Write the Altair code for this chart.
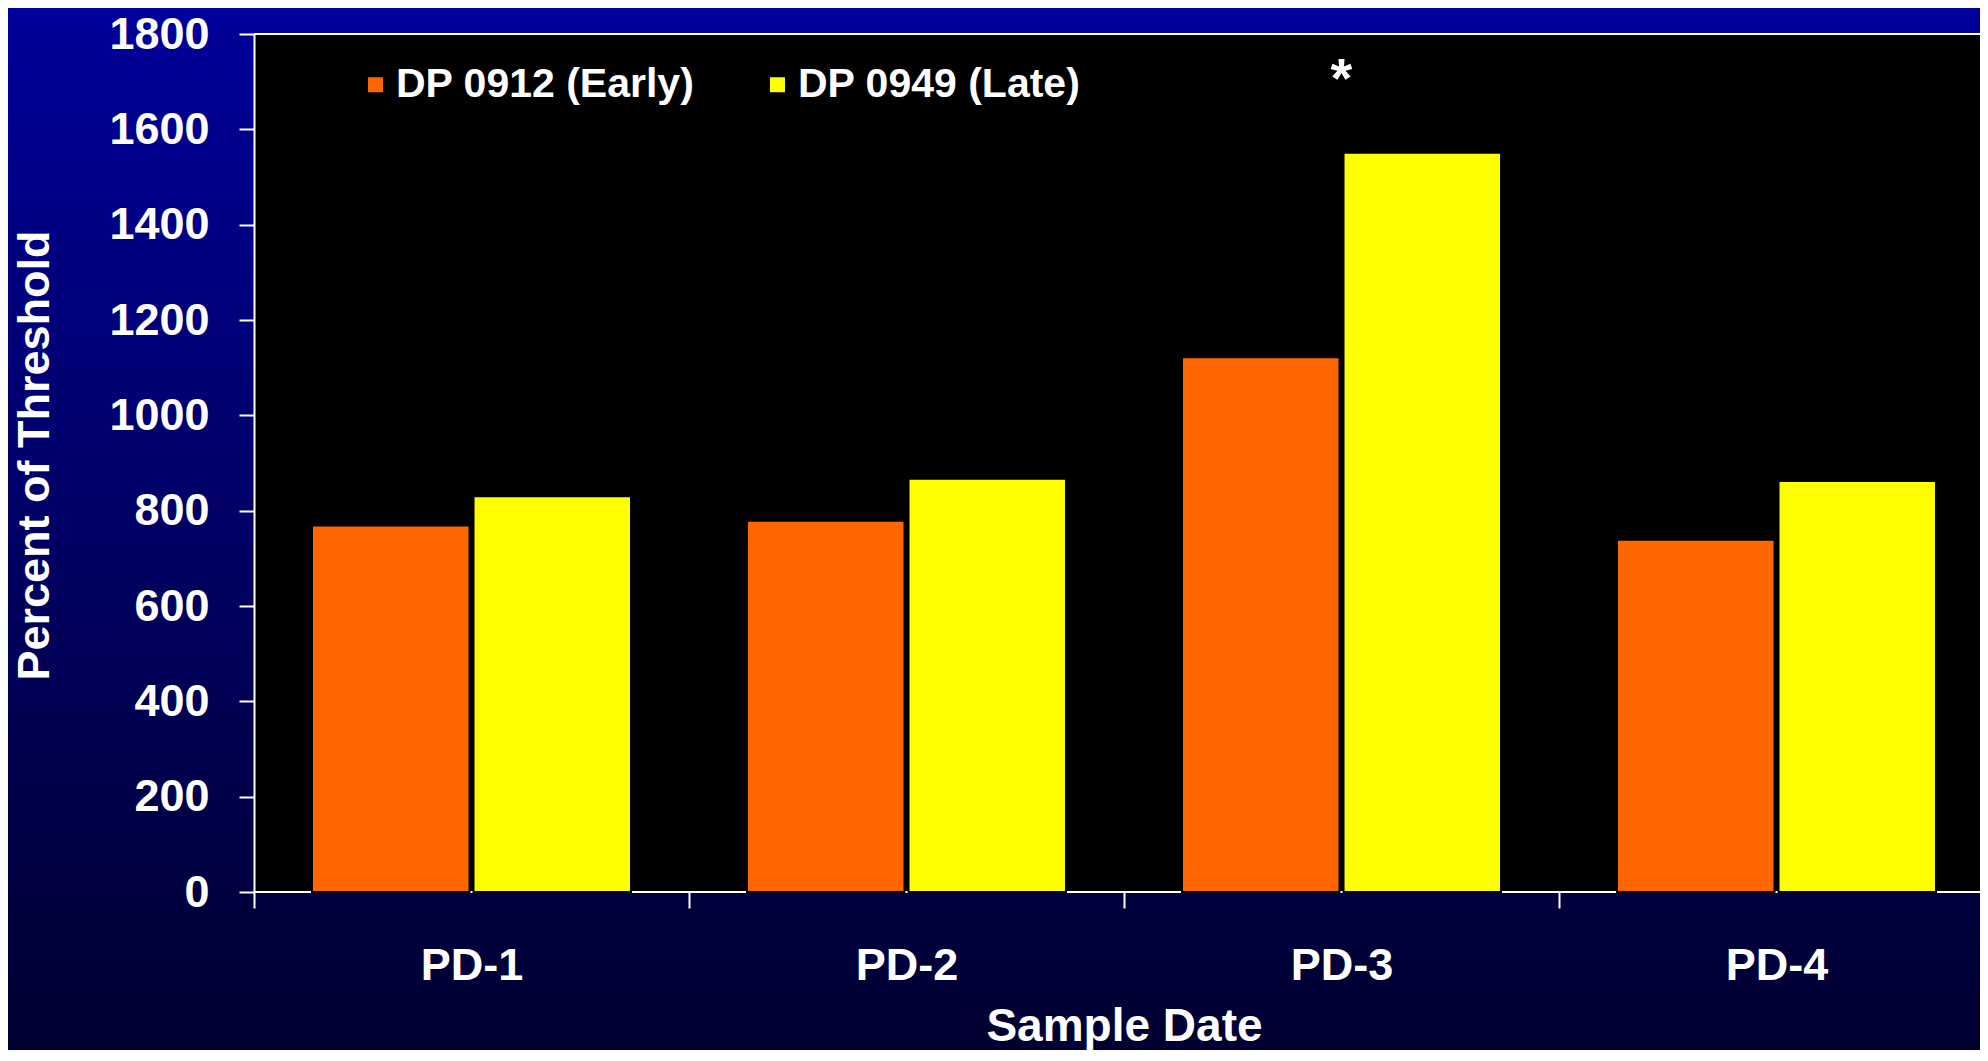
import altair as alt
import pandas as pd

# ---- data ----
categories = ["PD-1", "PD-2", "PD-3", "PD-4"]
series_names = ["DP 0912 (Early)", "DP 0949 (Late)"]
early_values = [769, 779, 1122, 739]
late_values = [830, 867, 1551, 862]
series_colors = ["#FF6600", "#FFFF00"]
y_tick_values = [0, 200, 400, 600, 800, 1000, 1200, 1400, 1600, 1800]
annot_category = ["PD-3"]
annot_value = [1667]
annot_text = ["*"]

rows = []
for c, e, l in zip(categories, early_values, late_values):
    rows.append({"cat": c, "series": series_names[0], "value": e})
    rows.append({"cat": c, "series": series_names[1], "value": l})
bars_df = pd.DataFrame(rows)
annot_df = pd.DataFrame({"cat": annot_category, "value": annot_value, "label": annot_text})
top_df = pd.DataFrame({"value": [y_tick_values[-1]]})
base_df = pd.DataFrame({"value": [y_tick_values[0]]})
one_df = pd.DataFrame({"k": [0]})

W, H = 1740, 858
FONT = "Liberation Sans"
P_INNER = 0.2667
HALF_GAP = P_INNER * (W / len(categories)) / 2  # half of the inner band padding in px

y_enc = alt.Y(
    "value:Q",
    scale=alt.Scale(domain=[0, 1800], nice=False, zero=True),
    axis=alt.Axis(
        values=y_tick_values,
        format="d",
        grid=False,
        domainColor="white",
        domainWidth=2,
        tickColor="white",
        tickWidth=2,
        tickSize=15,
        labelColor="white",
        labelFont=FONT,
        labelFontWeight="bold",
        labelFontSize=45,
        labelPadding=30,
        title="Percent of Threshold",
        titleColor="white",
        titleFont=FONT,
        titleFontWeight="bold",
        titleFontSize=45,
        titleAngle=270,
        titleAlign="center",
        titleBaseline="middle",
        titleX=-220,
        titleY=421,
        zindex=1,
    ),
)

x_enc = alt.X(
    "cat:N",
    sort=categories,
    scale=alt.Scale(domain=categories, paddingInner=P_INNER, paddingOuter=P_INNER / 2),
    axis=alt.Axis(
        domain=False,
        grid=False,
        bandPosition=0,
        tickOffset=-HALF_GAP,
        labelOffset=HALF_GAP,
        tickColor="white",
        tickWidth=2,
        tickSize=16,
        labelAngle=0,
        labelColor="white",
        labelFont=FONT,
        labelFontWeight="bold",
        labelFontSize=45,
        labelBaseline="alphabetic",
        labelPadding=71,
        title="Sample Date",
        titleColor="white",
        titleFont=FONT,
        titleFontWeight="bold",
        titleFontSize=46,
        titleBaseline="alphabetic",
        titleY=148,
        zindex=1,
    ),
)

gradient = alt.LinearGradient(
    gradient="linear",
    stops=[
        alt.GradientStop(offset=0, color="#00009C"),
        alt.GradientStop(offset=1, color="#00002C"),
    ],
    x1=0, x2=0, y1=0, y2=1,
)

bg = alt.Chart(one_df).mark_rect(color=gradient).encode(
    x=alt.value(-260), x2=alt.value(W + 40), y=alt.value(-40), y2=alt.value(H + 200)
)
plot_bg = alt.Chart(one_df).mark_rect(color="black").encode(
    x=alt.value(0), x2=alt.value(W), y=alt.value(0), y2=alt.value(H)
)
top_rule = alt.Chart(top_df).mark_rule(color="white", strokeWidth=2).encode(y=y_enc)
base_rule = alt.Chart(base_df).mark_rule(color="white", strokeWidth=2).encode(y=y_enc)

bars = alt.Chart(bars_df).mark_bar(stroke="black", strokeWidth=2).encode(
    x=x_enc,
    xOffset=alt.XOffset("series:N", sort=series_names,
                        scale=alt.Scale(domain=series_names, paddingInner=0.025)),
    y=y_enc,
    color=alt.Color(
        "series:N",
        sort=series_names,
        scale=alt.Scale(domain=series_names, range=series_colors),
        legend=alt.Legend(
            title=None,
            orient="none",
            direction="horizontal",
            legendX=101,
            legendY=30,
            padding=0,
            symbolType="square",
            symbolSize=225,
            symbolStrokeWidth=0,
            labelColor="white",
            labelFont=FONT,
            labelFontWeight="bold",
            labelFontSize=41,
            labelOffset=0,
            labelLimit=600,
            columnPadding=62,
        ),
    ),
)

star = alt.Chart(annot_df).mark_text(
    color="white", font=FONT, fontWeight="bold", fontSize=56,
    baseline="alphabetic", align="center"
).encode(x=x_enc, y=y_enc, text="label:N")

chart = alt.layer(bg, plot_bg, top_rule, base_rule, bars, star).properties(
    width=W,
    height=H,
    autosize=alt.AutoSizeParams(type="none"),
    padding={"left": 246, "top": 26, "right": -14, "bottom": 158},
    background="#00002C",
).configure_view(stroke=None)

chart.save("out.html", embed_options={"renderer": "svg", "actions": False})
